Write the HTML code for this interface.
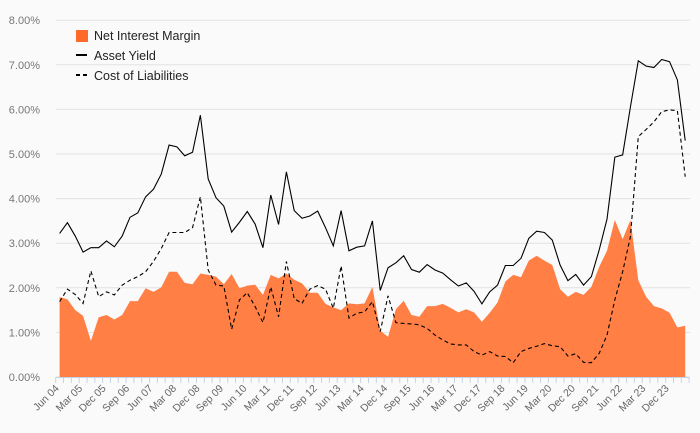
<!DOCTYPE html>
<html><head><meta charset="utf-8"><style>
html,body{margin:0;padding:0;background:#fafafa;}
svg{display:block;font-family:"Liberation Sans",sans-serif;}
</style></head><body>
<svg id="chart" width="700" height="433">
<rect width="700" height="433" fill="#fafafa"/>
<g id="grid"></g><g id="area"></g><g id="lines"></g><g id="xaxis"></g><g id="yaxis"></g>
<g>
<rect x="76" y="30" width="12" height="12" fill="#ff6a2b"/>
<text x="94" y="40" font-size="12.5" fill="#222">Net Interest Margin</text>
<line x1="76" y1="55" x2="87" y2="55" stroke="#000" stroke-width="2"/>
<text x="94" y="60" font-size="12.5" fill="#222">Asset Yield</text>
<line x1="76" y1="75" x2="87" y2="75" stroke="#000" stroke-width="2" stroke-dasharray="4,3"/>
<text x="94" y="80" font-size="12.5" fill="#222">Cost of Liabilities</text>
</g>
</svg>
<script>
const quarterNames = ["Mar","Jun","Sep","Dec"];
const startYear = 2004, startQ = 1, nPoints = 81;
const nim = [1.79,1.74,1.50,1.37,0.81,1.34,1.39,1.29,1.39,1.70,1.70,1.99,1.91,2.01,2.36,2.36,2.11,2.08,2.32,2.29,2.25,2.08,2.31,1.99,2.05,2.07,1.84,2.29,2.21,2.32,2.18,2.10,1.89,1.89,1.64,1.56,1.50,1.65,1.63,1.65,2.02,1.04,0.90,1.52,1.71,1.39,1.35,1.59,1.59,1.64,1.55,1.45,1.52,1.45,1.24,1.44,1.67,2.14,2.29,2.24,2.61,2.72,2.61,2.51,1.97,1.80,1.91,1.84,2.02,2.47,2.83,3.52,3.09,3.52,2.17,1.80,1.59,1.54,1.44,1.11,1.15];
const assetYield = [3.22,3.46,3.16,2.80,2.90,2.90,3.05,2.92,3.16,3.58,3.68,4.04,4.21,4.55,5.20,5.16,4.96,5.04,5.87,4.44,4.02,3.83,3.25,3.47,3.71,3.43,2.90,4.08,3.42,4.60,3.73,3.56,3.61,3.72,3.35,2.94,3.73,2.83,2.91,2.94,3.50,1.94,2.45,2.56,2.72,2.41,2.35,2.52,2.40,2.33,2.18,2.04,2.11,1.92,1.64,1.91,2.06,2.50,2.50,2.66,3.11,3.27,3.24,3.07,2.51,2.16,2.30,2.06,2.25,2.85,3.54,4.93,4.98,6.06,7.09,6.97,6.94,7.12,7.07,6.66,5.30];
const costLiab = [1.69,1.97,1.85,1.65,2.38,1.80,1.91,1.84,2.06,2.17,2.25,2.36,2.59,2.88,3.24,3.24,3.24,3.35,4.04,2.40,2.06,2.04,1.07,1.73,1.89,1.58,1.22,2.02,1.35,2.59,1.76,1.65,1.97,2.05,1.97,1.54,2.49,1.32,1.43,1.46,1.69,1.02,1.82,1.22,1.20,1.19,1.17,1.09,0.94,0.83,0.74,0.72,0.72,0.57,0.49,0.57,0.47,0.46,0.32,0.57,0.64,0.69,0.75,0.70,0.68,0.47,0.52,0.33,0.32,0.53,0.94,1.73,2.36,3.15,5.39,5.55,5.72,5.95,5.99,5.97,4.49];
const yTicks = [0,1,2,3,4,5,6,7,8];

const NS="http://www.w3.org/2000/svg";
const x0=55.7, bw=7.82, yBase=377, yPer=44.6;
const xs=i=>x0+bw*(i+0.5);
const ys=v=>yBase-v*yPer;
function mk(tag,attrs,parent){const e=document.createElementNS(NS,tag);for(const k in attrs)e.setAttribute(k,attrs[k]);parent.appendChild(e);return e;}
const grid=document.getElementById('grid'), yaxis=document.getElementById('yaxis');
yTicks.forEach(t=>{
  const l=mk('line',{x1:56,x2:690,y1:ys(t),y2:ys(t),stroke:'#e2e2e2','stroke-width':1},grid);
  
  
  const tx=mk('text',{x:40,y:ys(t)+4,'text-anchor':'end','font-size':11,fill:'#777'},yaxis);
  tx.textContent=t.toFixed(2)+'%';
  
  
});
// area
let d='M'+xs(0)+','+ys(0);
nim.forEach((v,i)=>{d+='L'+xs(i)+','+ys(v);});
d+='L'+xs(nim.length-1)+','+ys(0)+'Z';
const a=mk('path',{d:d,fill:'#ff7f45'},document.getElementById('area'));


const lines=document.getElementById('lines');
const p1=mk('path',{d:assetYield.map((v,i)=>(i?'L':'M')+xs(i)+','+ys(v)).join(''),fill:'none',stroke:'#000','stroke-width':1.1},lines);


const p2=mk('path',{d:costLiab.map((v,i)=>(i?'L':'M')+xs(i)+','+ys(v)).join(''),fill:'none',stroke:'#000','stroke-width':1.1,'stroke-dasharray':'4,3'},lines);


// x axis
const xa=document.getElementById('xaxis');
const ax=mk('line',{x1:x0,x2:x0+bw*nPoints,y1:yBase+0.5,y2:yBase+0.5,stroke:'#c5d3ea','stroke-width':1},xa);


for(let i=0;i<=nPoints;i++){
  const t=mk('line',{x1:x0+bw*i,x2:x0+bw*i,y1:yBase,y2:yBase+6,stroke:'#c5d3ea','stroke-width':1},xa);
  
  
}
for(let i=0;i<nPoints;i+=3){
  const q=(startQ+i)%4, yr=startYear+Math.floor((startQ+i)/4);
  const lab=quarterNames[q]+' '+String(yr%100).padStart(2,'0');
  const x=xs(i), y=yBase+12;
  const tx=mk('text',{x:x,y:y,'text-anchor':'end','font-size':10.5,fill:'#666',transform:'rotate(-45 '+x+' '+y+')'},xa);
  tx.textContent=lab;
  
  
}
</script>
</body></html>
